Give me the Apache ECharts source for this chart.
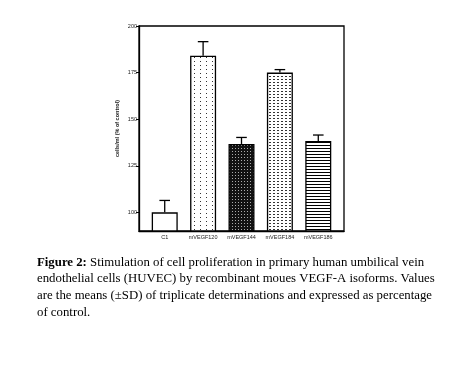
<!DOCTYPE html>
<html>
<head>
<meta charset="utf-8">
<script src="https://cdn.jsdelivr.net/npm/echarts@6/dist/echarts.min.js"></script>
<style>
html,body{margin:0;padding:0;background:#fff;}
#c{width:469px;height:366px;}
</style>
</head>
<body>
<div id="c"></div>
<script>
var categories = ['C1', 'mVEGF120', 'mVEGF144', 'mVEGF184', 'mVEGF186'];
var means = [100, 184.1, 136.7, 175, 138.3];
var errTops = [106.4, 191.6, 140.2, 176.6, 141.5];
var yTicks = [100, 125, 150, 175, 200];
var captionLines = [
  ['Figure 2:', ' Stimulation of cell proliferation in primary human umbilical vein'],
  ['', 'endothelial cells (HUVEC) by recombinant moues VEGF-A isoforms. Values'],
  ['', 'are the means (\u00b1SD) of triplicate determinations and expressed as percentage'],
  ['', 'of control.']
];

function pat(w, h, bg, draw) {
  var cv = document.createElement('canvas');
  cv.width = w; cv.height = h;
  var ctx = cv.getContext('2d');
  ctx.fillStyle = bg; ctx.fillRect(0, 0, w, h);
  draw(ctx);
  return { image: cv, repeat: 'repeat' };
}
var fills = [
  '#ffffff',
  pat(6, 4, '#ffffff', function (c) { c.fillStyle = '#333'; c.fillRect(2, 1, 1, 1); }),
  pat(3, 3, '#111111', function (c) { c.fillStyle = '#aaa'; c.fillRect(1, 1, 1, 1); }),
  pat(4, 3, '#ffffff', function (c) { c.fillStyle = '#333'; c.fillRect(1, 1, 2, 1); }),
  pat(1, 3, '#ffffff', function (c) { c.fillStyle = '#000'; c.fillRect(0, 1, 1, 1); })
];

var barData = means.map(function (v, i) {
  return { value: [i, v], itemStyle: { color: fills[i] } };
});
var errData = means.map(function (v, i) { return [i, v, errTops[i]]; });

var chart = echarts.init(document.getElementById('c'), null, { renderer: 'canvas' });
var lab = { fontFamily: 'Liberation Sans, Arial', fontSize: 5.5, color: '#222' };

var graphics = captionLines.map(function (ln, i) {
  return {
    type: 'text', left: 37, top: 256 + i * 16.6,
    style: {
      text: (ln[0] ? '{b|' + ln[0] + '}' : '') + '{n|' + ln[1] + '}',
      rich: {
        b: { fontFamily: 'Liberation Serif', fontSize: 12.8, fontWeight: 'bold', fill: '#000' },
        n: { fontFamily: 'Liberation Serif', fontSize: 12.8, fill: '#000' }
      }
    }
  };
});

chart.setOption({
  animation: false,
  grid: { left: 139, top: 26, width: 205, height: 205, show: true, borderColor: '#000', borderWidth: 1.3, backgroundColor: 'transparent' },
  xAxis: {
    type: 'value', min: -0.67, max: 4.67,
    axisLine: { show: true, onZero: false, lineStyle: { color: '#000', width: 1.3 } },
    axisTick: { show: false },
    splitLine: { show: false },
    axisLabel: Object.assign({}, lab, {
      customValues: [0, 1, 2, 3, 4], margin: 3,
      formatter: function (v) { return categories[Math.round(v)]; }
    })
  },
  yAxis: {
    type: 'value', min: 90, max: 200,
    name: 'cells/ml (% of control)', nameLocation: 'middle', nameGap: 19, nameRotate: 90,
    nameTextStyle: Object.assign({}, lab, { fontWeight: 'bold' }),
    axisLine: { show: true, onZero: false, lineStyle: { color: '#000', width: 1.3 } },
    axisTick: { show: true, length: 3, customValues: yTicks, lineStyle: { color: '#000', width: 1 } },
    splitLine: { show: false },
    axisLabel: Object.assign({}, lab, { customValues: yTicks, margin: 2 })
  },
  series: [
    {
      type: 'bar', data: barData, barWidth: 26,
      itemStyle: { borderColor: '#000', borderWidth: 1.3 }
    },
    {
      type: 'custom', data: errData, z: 3,
      renderItem: function (params, api) {
        var x = api.value(0);
        var p0 = api.coord([x, api.value(1)]);
        var p1 = api.coord([x, api.value(2)]);
        var st = { stroke: '#000', lineWidth: 1.3 };
        return {
          type: 'group', children: [
            { type: 'line', shape: { x1: p0[0], y1: p0[1], x2: p1[0], y2: p1[1] }, style: st },
            { type: 'line', shape: { x1: p1[0] - 5.3, y1: p1[1], x2: p1[0] + 5.3, y2: p1[1] }, style: st }
          ]
        };
      }
    }
  ],
  graphic: graphics
});
</script>
</body>
</html>
